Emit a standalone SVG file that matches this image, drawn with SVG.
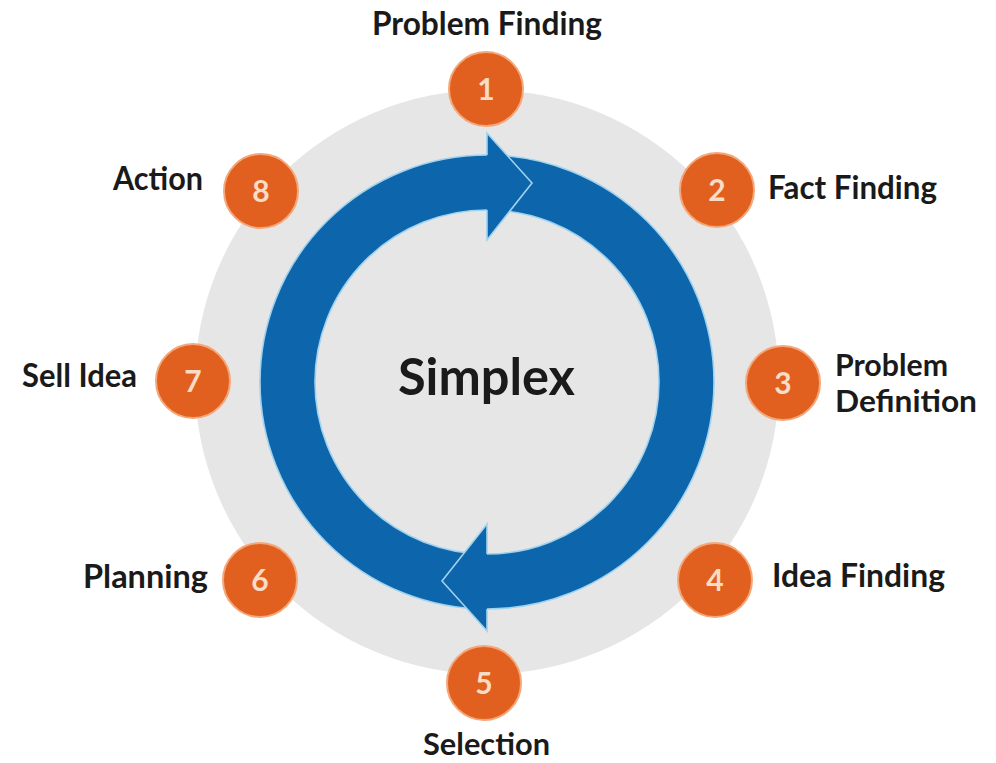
<svg xmlns="http://www.w3.org/2000/svg" width="996" height="763" viewBox="0 0 996 763">
<style>
.lbl{font-family:Lato,"Open Sans","Liberation Sans",sans-serif;font-weight:700;font-size:33px;fill:#1a1a1a}
.sm{font-size:30px}
.num{font-family:Lato,"Open Sans","Liberation Sans",sans-serif;font-weight:700;font-size:30px;fill:#f8dcc6;text-anchor:middle}
.dot{fill:#e1601f;stroke:#f4a77a;stroke-width:2}
.edge{fill:none;stroke:#9fd2ee;stroke-width:1.6}
.blue{fill:#0d65ab}
</style>
<rect width="996" height="763" fill="#ffffff"/>
<circle id="backdrop" cx="487" cy="382" r="292" fill="#e6e6e6"/>
<g id="connectors">
  <circle cx="487" cy="382" r="199.5" fill="none" stroke="#0d65ab" stroke-width="55"/>
  <circle class="edge" cx="487" cy="382" r="227"/>
  <circle class="edge" cx="487" cy="382" r="172"/>
  <polygon class="blue" points="487,133 532,183 487,240"/>
  <polyline class="edge" points="487,155 487,133 532,183 487,240 487,210"/>
  <polygon class="blue" points="487,631 442,581 487,524"/>
  <polyline class="edge" points="487,609 487,631 442,581 487,524 487,554"/>
</g>
<g id="center"><text class="lbl" x="398" y="395" style="font-size:51px" textLength="177" lengthAdjust="spacingAndGlyphs">Simplex</text></g>
<g id="n1"><circle class="dot" cx="486" cy="89" r="37"/><text class="num" x="486" y="100">1</text>
  <text class="lbl" x="372" y="35" textLength="230" lengthAdjust="spacingAndGlyphs">Problem Finding</text></g>
<g id="n2"><circle class="dot" cx="717" cy="190" r="37"/><text class="num" x="717" y="201">2</text>
  <text class="lbl" x="768" y="199" textLength="169" lengthAdjust="spacingAndGlyphs">Fact Finding</text></g>
<g id="n3"><circle class="dot" cx="783" cy="383" r="37"/><text class="num" x="783" y="394">3</text>
  <text class="lbl sm" x="835" y="376" textLength="113" lengthAdjust="spacingAndGlyphs">Problem</text>
  <text class="lbl sm" x="835" y="412" textLength="142" lengthAdjust="spacingAndGlyphs">Definition</text></g>
<g id="n4"><circle class="dot" cx="715" cy="580" r="37"/><text class="num" x="715" y="591">4</text>
  <text class="lbl" x="772" y="587" textLength="173" lengthAdjust="spacingAndGlyphs">Idea Finding</text></g>
<g id="n5"><circle class="dot" cx="484" cy="683" r="37"/><text class="num" x="484" y="694">5</text>
  <text class="lbl sm" x="423" y="755" textLength="127" lengthAdjust="spacingAndGlyphs">Selection</text></g>
<g id="n6"><circle class="dot" cx="260" cy="580" r="37"/><text class="num" x="260" y="591">6</text>
  <text class="lbl" x="83" y="588" textLength="125" lengthAdjust="spacingAndGlyphs">Planning</text></g>
<g id="n7"><circle class="dot" cx="193" cy="381" r="37"/><text class="num" x="193" y="392">7</text>
  <text class="lbl" x="22" y="387" textLength="115" lengthAdjust="spacingAndGlyphs">Sell Idea</text></g>
<g id="n8"><circle class="dot" cx="261" cy="191" r="37"/><text class="num" x="261" y="202">8</text>
  <text class="lbl" x="113" y="190" textLength="90" lengthAdjust="spacingAndGlyphs">Action</text></g>
</svg>
